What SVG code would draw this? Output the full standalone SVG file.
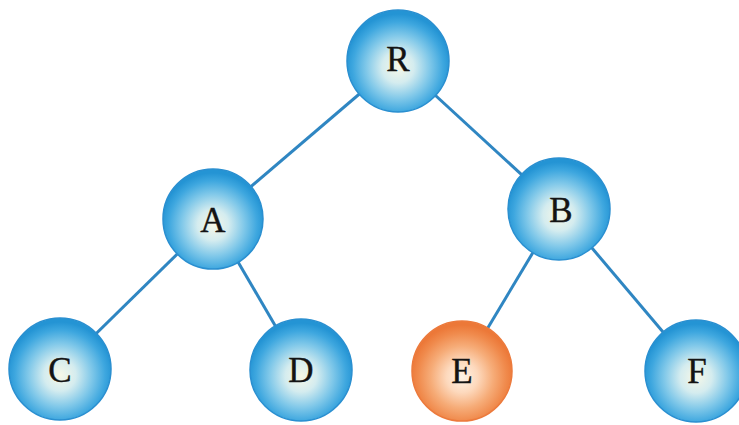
<svg xmlns="http://www.w3.org/2000/svg" width="739" height="425" viewBox="0 0 739 425">
<style>
.edge{stroke:#2f86c2;stroke-width:3;fill:none}
.blue{fill:url(#gb);stroke:#2a8fd0;stroke-width:1.5}
.orange{fill:url(#go);stroke:#ec7a3c;stroke-width:1.5}
.lbl{font-family:"Liberation Serif",serif;font-size:35px;fill:#141414;stroke:#141414;stroke-width:0.4;text-anchor:middle;dominant-baseline:central}
</style>
<defs>
<radialGradient id="gb" cx="50%" cy="56%" r="52%">
<stop offset="0" stop-color="#f7f8e8"/>
<stop offset="0.3" stop-color="#d4ecef"/>
<stop offset="0.6" stop-color="#80c8e9"/>
<stop offset="0.85" stop-color="#3ea7df"/>
<stop offset="1" stop-color="#2494d4"/>
</radialGradient>
<radialGradient id="go" cx="50%" cy="56%" r="52%">
<stop offset="0" stop-color="#fff3e6"/>
<stop offset="0.3" stop-color="#fdd9bd"/>
<stop offset="0.6" stop-color="#f6ac78"/>
<stop offset="0.85" stop-color="#f08a4c"/>
<stop offset="1" stop-color="#ec7838"/>
</radialGradient>
</defs>
<rect width="739" height="425" fill="#ffffff"/>
<g id="connectors">
<line class="edge" x1="398" y1="61" x2="213" y2="219"/>
<line class="edge" x1="398" y1="61" x2="559" y2="209"/>
<line class="edge" x1="213" y1="219" x2="60" y2="369"/>
<line class="edge" x1="213" y1="219" x2="301" y2="370"/>
<line class="edge" x1="559" y1="209" x2="462" y2="371"/>
<line class="edge" x1="559" y1="209" x2="696" y2="371"/>
</g>
<g id="R"><circle class="blue" cx="398" cy="61" r="51"/><text class="lbl" x="398" y="59">R</text></g>
<g id="A"><circle class="blue" cx="213" cy="219" r="50"/><text class="lbl" x="213" y="220">A</text></g>
<g id="B"><circle class="blue" cx="559" cy="209" r="51"/><text class="lbl" x="561" y="210">B</text></g>
<g id="C"><circle class="blue" cx="60" cy="369" r="51"/><text class="lbl" x="60" y="370">C</text></g>
<g id="D"><circle class="blue" cx="301" cy="370" r="51"/><text class="lbl" x="301" y="370">D</text></g>
<g id="E"><circle class="orange" cx="462" cy="371" r="50"/><text class="lbl" x="462" y="371">E</text></g>
<g id="F"><circle class="blue" cx="696" cy="371" r="51"/><text class="lbl" x="697" y="371">F</text></g>
</svg>
